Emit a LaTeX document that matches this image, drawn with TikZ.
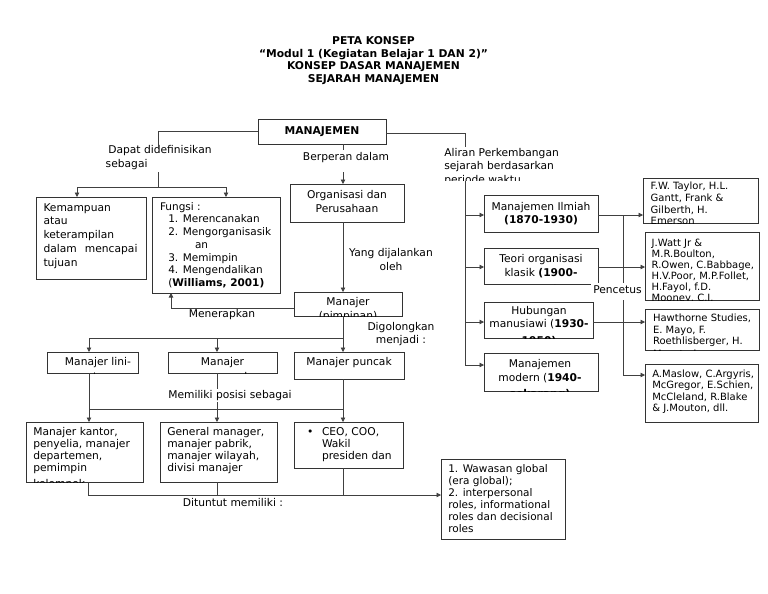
\documentclass[tikz,border=0pt]{standalone}
\usepackage{fontspec}
\setmainfont{DejaVu Sans}
\usetikzlibrary{arrows.meta}
\newcommand\fs[2]{\fontsize{#1}{#2}\selectfont}
\newcommand\st{\rule{0pt}{8.6pt}}
\newcommand\mkbox[5]{\node[bx, minimum width={(#4-#2)*1pt}, minimum height={(#5-#3)*1pt}] (#1) at ({(#2+#4)/2},{(#3+#5)/2}) {};}
\newcommand\btext[6]{\begin{scope}\clip (#1.south west) rectangle (#1.north east);\node[txt,#3] (#2) at ({#4},{#5-8.6}) {\st #6};\end{scope}}
\begin{document}
\begin{tikzpicture}[x=1pt,y=-1pt,
  bx/.style={draw=black!80, line width=0.9pt, inner sep=0pt, outer sep=0pt, rectangle},
  cn/.style={draw=black!75, line width=0.8pt},
  ar/.style={cn, -{Triangle[length=4.5pt,width=4.5pt]}},
  txt/.style={inner sep=0pt, outer sep=0pt},
  lab/.style={inner sep=0pt, outer sep=0pt, font=\fs{10.7}{14}, align=center},
  wlab/.style={fill=white, inner xsep=2pt, inner ysep=0pt, outer sep=0pt, font=\fs{10.7}{14}}]
\useasboundingbox (0,0) rectangle (768,594);
\fill[white] (0,0) rectangle (768,594);

% title
\node[txt, anchor=north, align=center, font=\bfseries\fs{10.75}{12.5}] (title) at (373.5,{44.5-8.6})
  {\st PETA KONSEP\\“Modul 1 (Kegiatan Belajar 1 DAN 2)”\\KONSEP DASAR MANAJEMEN\\SEJARAH MANAJEMEN};

% boxes
\mkbox{man}{258}{119}{386}{144}
\mkbox{kem}{36}{197}{146}{279}
\mkbox{fun}{152}{197}{280}{293}
\mkbox{org}{290}{184}{404}{222}
\mkbox{mgr}{294}{292}{402}{316}
\mkbox{lini}{47}{352}{138}{373}
\mkbox{mid}{168}{352}{277}{373}
\mkbox{top}{294}{352}{404}{379}
\mkbox{kan}{26}{422}{143}{482}
\mkbox{gen}{160}{422}{277}{482}
\mkbox{ceo}{294}{422}{403}{468}
\mkbox{waw}{441}{459}{565}{539}
\mkbox{ilm}{484}{195}{598}{232}
\mkbox{teo}{484}{248}{598}{284}
\mkbox{hub}{484}{302}{593}{338}
\mkbox{mod}{484}{353}{598}{391}
\mkbox{tay}{643}{178}{758}{223}
\mkbox{wat}{645}{232}{759}{300.5}
\mkbox{haw}{645}{309}{759}{350}
\mkbox{mas}{645}{364}{758}{422}

% box texts
\btext{man}{man-t}{anchor=north, align=center, font=\bfseries\fs{10.75}{13}}{322}{134}{MANAJEMEN}
\btext{kem}{kem-t}{anchor=north west, align=left, font=\fs{10.7}{13.9}}{43.5}{211}{Kemampuan\\atau\\keterampilan\\\hbox to 94pt{dalam\hfill mencapai}\\tujuan}
\btext{fun}{fun-t}{anchor=north west, align=left, font=\fs{10.5}{12.75}}{160}{210}{Fungsi :\\\hspace*{8.3pt}1. Merencanakan\\\hspace*{8.3pt}2. Mengorganisasik\\\hspace*{35pt}an\\\hspace*{8.3pt}3. Memimpin\\\hspace*{8.3pt}4. Mengendalikan\\\hspace*{8.3pt}(\textbf{Williams, 2001)}}
\btext{org}{org-t}{anchor=north, align=center, font=\fs{10.7}{14.4}}{347}{198}{Organisasi dan\\Perusahaan}
\btext{mgr}{mgr-t}{anchor=north, align=center, font=\fs{10.7}{14}}{348}{305}{Manajer\\[0.5pt](pimpinan)}
\btext{lini}{lini-t}{anchor=north, align=center, font=\fs{10.7}{14}}{98}{365.5}{Manajer lini-\\[1pt]pertama}
\btext{mid}{mid-t}{anchor=north, align=center, font=\fs{10.7}{14}}{222.5}{365.5}{Manajer\\[1pt]menengah}
\btext{top}{top-t}{anchor=north, align=center, font=\fs{10.7}{14}}{349}{365.5}{Manajer puncak}
\btext{kan}{kan-t}{anchor=north west, align=left, font=\fs{10.7}{12}}{33.3}{435.5}{Manajer kantor,\\penyelia, manajer\\departemen,\\pemimpin\\[3.5pt]kelompok}
\btext{gen}{gen-t}{anchor=north west, align=left, font=\fs{10.7}{12}}{167.3}{435.5}{General manager,\\manajer pabrik,\\manajer wilayah,\\divisi manajer}
\btext{ceo}{ceo-t}{anchor=north west, align=left, font=\fs{10.7}{12}}{307}{435.5}{\makebox[15pt][l]{•}CEO, COO,\\\hspace*{15pt}Wakil\\\hspace*{15pt}presiden dan}
\btext{waw}{waw-t}{anchor=north west, align=left, font=\fs{10.5}{12.1}}{448.3}{472}{1. Wawasan global\\(era global);\\2. interpersonal\\roles, informational\\roles dan decisional\\roles}
\btext{ilm}{ilm-t}{anchor=north, align=center, font=\fs{10.7}{13}}{541}{210}{Manajemen Ilmiah\\\textbf{(1870-1930)}}
\btext{teo}{teo-t}{anchor=north, align=center, font=\fs{10.7}{13.5}}{541}{262.5}{Teori organisasi\\klasik \textbf{(1900-}\\[3.5pt]\textbf{1930)}}
\btext{hub}{hub-t}{anchor=north, align=center, font=\fs{10.7}{13.5}}{539}{314}{Hubungan\\manusiawi (\textbf{1930-}\\[3.5pt]\textbf{1950)}}
\btext{mod}{mod-t}{anchor=north, align=center, font=\fs{10.7}{14}}{540}{367.5}{Manajemen\\modern (\textbf{1940-}\\[2pt]\textbf{sekarang)}}
\btext{tay}{tay-t}{anchor=north west, align=left, font=\fs{10}{11.8}}{650.7}{189.5}{F.W. Taylor, H.L.\\Gantt, Frank \&\\Gilberth, H.\\Emerson}
\btext{wat}{wat-t}{anchor=north west, align=left, font=\fs{10}{11}}{651.7}{246}{J.Watt Jr \&\\M.R.Boulton,\\R.Owen, C.Babbage,\\H.V.Poor, M.P.Follet,\\H.Fayol, f.D.\\Mooney, C.I.}
\btext{haw}{haw-t}{anchor=north west, align=left, font=\fs{10}{11.7}}{653}{321.5}{Hawthorne Studies,\\E. Mayo, F.\\Roethlisberger, H.\\[0.5pt]Munsterberg}
\btext{mas}{mas-t}{anchor=north west, align=left, font=\fs{10}{11.4}}{652.3}{377.5}{A.Maslow, C.Argyris,\\McGregor, E.Schien,\\McCleland, R.Blake\\\& J.Mouton, dll.}

% labels (no fill)
\node[lab, anchor=north west, align=left] (l-dapat) at (105.7,{153.3-8.6}) {\st\hspace*{2.6pt}Dapat didefinisikan\\sebagai};
\node[lab, anchor=north] (l-ber) at (346,{160-8.6}) {\st Berperan dalam};
\node[lab, anchor=north, font=\fs{10.7}{14.5}] (l-yang) at (391,{256-8.6}) {\st Yang dijalankan\\oleh};
\node[lab, anchor=north] (l-mener) at (222,{317-8.6}) {\st Menerapkan};
\node[lab, anchor=north, font=\fs{10.7}{13}] (l-gol) at (401,{330-8.6}) {\st Digolongkan\\menjadi :};
\node[lab, anchor=north] (l-tun) at (233,{506-8.6}) {\st Dituntut memiliki :};
\begin{scope}
\clip (430,140) rectangle (600,180.5);
\node[lab, anchor=north west, align=left, font=\fs{10.7}{13.2}] (l-ali) at (444.3,{156.7-8.6}) {\st Aliran Perkembangan\\sejarah berdasarkan\\periode waktu};
\end{scope}

% connectors
\coordinate (jLe) at (158,148);
\draw[cn] (man.west) -| (jLe);
\coordinate (jL2) at (158,172);
\coordinate (jL3) at (158,187);
\draw[cn] (jL2) -- (jL3);
\coordinate (bL) at (77,187);
\coordinate (bR) at (226,187);
\draw[cn] (bL) -- (bR);
\draw[ar] (bL) -- (bL |- kem.north);
\draw[ar] (bR) -- (bR |- fun.north);

\coordinate (b1) at (343,150);
\coordinate (b2) at (343,172);
\draw[cn] (man.south -| b1) -- (b1);
\draw[ar] (b2) -- (b2 |- org.north);
\draw[ar] (org.south -| b2) -- (mgr.north -| b2);

\coordinate (m1) at (171,308);
\draw[ar] (mgr.west |- m1) -- (m1) -- (m1 |- fun.south);

\coordinate (g0) at (343,338);
\coordinate (g1) at (89,338);
\coordinate (g2) at (217,338);
\draw[cn] (mgr.south -| g0) -- (g0);
\draw[cn] (g1) -- (g0);
\draw[ar] (g0) -- (g0 |- top.north);
\draw[ar] (g1) -- (g1 |- lini.north);
\draw[ar] (g2) -- (g2 |- mid.north);

\coordinate (p1) at (89,409);
\coordinate (p2) at (217,409);
\coordinate (p3) at (343,409);
\draw[cn] (p1) -- (p3);
\draw[ar] (p1 |- lini.south) -- (p1 |- kan.north);
\draw[cn] (p2 |- mid.south) -- (p2);
\draw[ar] (p3 |- top.south) -- (p3 |- ceo.north);
\draw[ar] (p2) -- (p2 |- gen.north);

\coordinate (d1) at (88,495);
\coordinate (d2) at (217,495);
\coordinate (d3) at (343,495);
\draw[cn] (d1 |- kan.south) -- (d1);
\draw[cn] (d2 |- gen.south) -- (d2);
\draw[cn] (d3 |- ceo.south) -- (d3);
\draw[ar] (d1) -- (d1 -| waw.west);

\coordinate (a0) at (465,133);
\coordinate (a1) at (465,147);
\draw[cn] (man.east |- a0) -- (a0) -- (a1);
\coordinate (a2) at (465,180.5);
\coordinate (a3) at (465,365);
\coordinate (r1) at (465,215);
\coordinate (r2) at (465,267);
\coordinate (r3) at (465,322);
\draw[cn] (a2) -- (a3);
\draw[ar] (r1) -- (r1 -| ilm.west);
\draw[ar] (r2) -- (r2 -| teo.west);
\draw[ar] (r3) -- (r3 -| hub.west);
\draw[ar] (a3) -- (a3 -| mod.west);

\coordinate (q1) at (623,215);
\coordinate (q4) at (623,375);
\draw[ar] (ilm.east |- q1) -- (q1 -| tay.west);
\draw[ar] (teo.east |- r2) -- (r2 -| wat.west);
\draw[ar] (hub.east |- r3) -- (r3 -| haw.west);
\draw[cn] (q1) -- (q4);
\draw[ar] (q4) -- (q4 -| mas.west);

% labels with white fill
\node[wlab, anchor=base, minimum height=17pt, text depth=4pt] (l-pen) at (617.5,293.3) {Pencetus};
\node[wlab, anchor=base, text height=9pt, text depth=4pt] (l-mem) at (230,398.3) {Memiliki posisi sebagai};
\end{tikzpicture}
\end{document}
